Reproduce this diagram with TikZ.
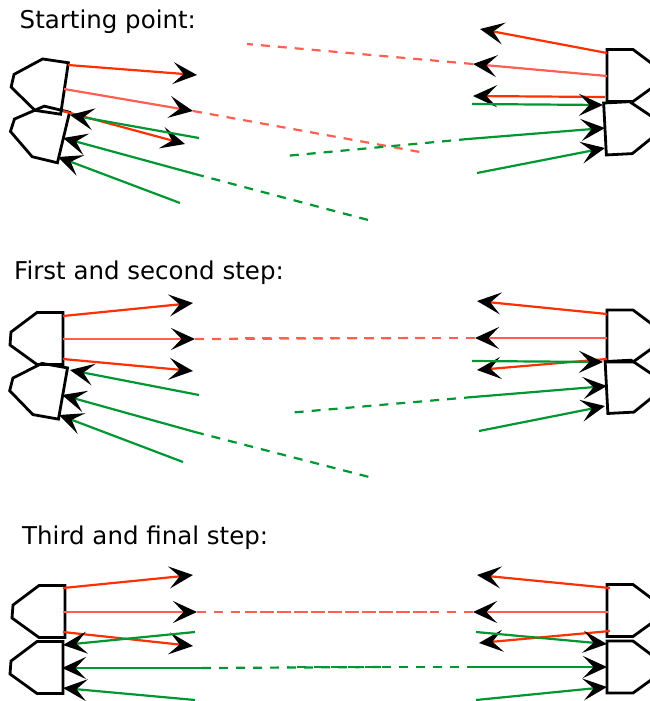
\documentclass[tikz,border=0pt]{standalone}
\usepackage{fontspec}
\newfontfamily\titlefont{DejaVu Sans}
\usetikzlibrary{arrows.meta}
\definecolor{myred}{RGB}{255,48,0}
\definecolor{mylred}{RGB}{255,95,80}
\definecolor{mygreen}{RGB}{0,150,50}
\tikzset{
  shp/.style={draw=black,line width=2.8pt,line join=miter},
  arrtip/.style={-{Stealth[black,length=24pt,width=22pt,inset=10.5pt]}},
  rl/.style={draw=myred,line width=2.2pt,arrtip},
  lrl/.style={draw=mylred,line width=2.2pt,arrtip},
  gl/.style={draw=mygreen,line width=2.2pt,arrtip},
  rdash/.style={draw=mylred,line width=2.2pt,dash pattern=on 9pt off 8pt},
  gdash/.style={draw=mygreen,line width=2.2pt,dash pattern=on 9pt off 8pt},
  title/.style={font=\titlefont\fontsize{24.5pt}{28pt}\selectfont,anchor=base west,inner sep=0pt},
  lhand/.pic={\draw[shp] (0,-26) -- (-26,-26) -- (-52,-6.5) -- (-53,6.5) -- (-26,26) -- (0,26) -- cycle;},
  rhand/.pic={\draw[shp] (0,-26) -- (26,-26) -- (52,-6.5) -- (53,6.5) -- (26,26) -- (0,26) -- cycle;}
}
\begin{document}
\begin{tikzpicture}[x=1pt,y=-1pt]
\useasboundingbox (0,0) rectangle (650,701);
\begin{scope}
\clip (0,0) rectangle (650,701);
% titles
\node[title] (t1) at (19.5,29) {Starting point:};
\node[title] (t2) at (14,279) {First and second step:};
\node[title] (t3) at (22,544) {Third and final step:};

% ---------- section 1 ----------
\pic[rotate=-8.5] at (64.5,88.5) {lhand};
\pic[rotate=-13.5] at (63.5,137.5) {lhand};
\pic at (607,75.5) {rhand};
\pic[rotate=3] at (605,129) {rhand};

\draw[rdash] (193,111) -- (420,152);
\draw[rdash] (473,64) -- (247,44);
\draw[gdash] (195,174) -- (372,221);
\draw[gdash] (468,139) -- (285,156);

\draw[rl] (68,65) -- (197,75);
\draw[lrl] (64,89) -- (193,111);
\draw[rl] (63,111) -- (185,144);
\draw[gl] (199,138) -- (70,115);
\draw[gl] (195,174) -- (63,138);
\draw[gl] (180,203) -- (58,157);
\draw[rl] (607,53) -- (480,29);
\draw[lrl] (607,76) -- (473,64);
\draw[rl] (605,97) -- (473,96);
\draw[gl] (472,104) -- (603,105);
\draw[gl] (468,139) -- (605,128);
\draw[gl] (477,173) -- (605,148);

% ---------- section 2 ----------
\pic at (63,338.5) {lhand};
\pic[rotate=-10] at (63,393.5) {lhand};
\pic at (607,336) {rhand};
\pic[rotate=3] at (606.5,387.5) {rhand};

\draw[rdash] (195,339) -- (425,338);
\draw[rdash] (475,338) -- (243,338);
\draw[gdash] (195,432) -- (373,478);
\draw[gdash] (473,397) -- (287,413);

\draw[rl] (63,316) -- (193,303);
\draw[lrl] (63,339) -- (195,339);
\draw[rl] (63,359) -- (193,371);
\draw[gl] (199,395) -- (70,370);
\draw[gl] (195,432) -- (62,395);
\draw[gl] (183,462) -- (59,415);
\draw[rl] (607,314) -- (477,301);
\draw[lrl] (607,338) -- (475,338);
\draw[rl] (607,359) -- (477,370);
\draw[gl] (472,361) -- (603,362);
\draw[gl] (473,397) -- (607,386);
\draw[gl] (479,431) -- (605,406);

% ---------- section 3 ----------
\pic at (65,611.5) {lhand};
\pic at (63,667.5) {lhand};
\pic at (607,610.5) {rhand};
\pic at (607,667) {rhand};

\draw[rdash] (197,612) -- (430,612);
\draw[rdash] (473,612) -- (245,612);
\draw[gdash] (202,668) -- (385,667);
\draw[gdash] (476,667) -- (287,667);

\draw[rl] (63,588) -- (193,575);
\draw[lrl] (63,612) -- (197,612);
\draw[rl] (63,632) -- (193,646);
\draw[gl] (195,632) -- (63,645);
\draw[gl] (202,668) -- (62,668);
\draw[gl] (195,700) -- (63,688);
\draw[rl] (610,588) -- (477,575);
\draw[lrl] (608,612) -- (473,612);
\draw[rl] (610,631) -- (479,643);
\draw[gl] (476,632) -- (607,644);
\draw[gl] (476,667) -- (607,667);
\draw[gl] (476,700) -- (607,687);
\end{scope}
\end{tikzpicture}
\end{document}
